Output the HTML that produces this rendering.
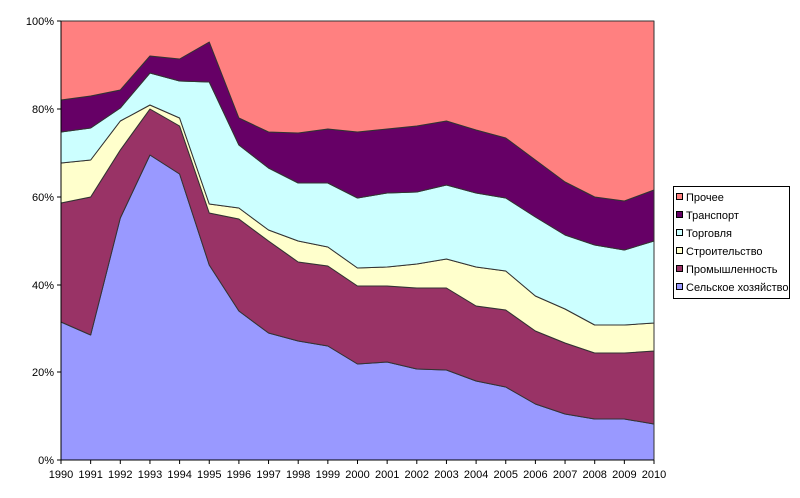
<!DOCTYPE html>
<html><head><meta charset="utf-8"><style>
html,body{margin:0;padding:0;background:#fff;}
svg{display:block;font-family:"Liberation Sans",Arial,sans-serif;}
</style></head><body>
<svg id="s" width="800" height="498" viewBox="0 0 800 498" xmlns="http://www.w3.org/2000/svg">
<g id="areas"></g>
<line x1="61" y1="21" x2="61" y2="460" stroke="#000"/>
<line x1="61" y1="460" x2="654" y2="460" stroke="#000"/>
<g stroke="#000">
<line x1="57" y1="21" x2="61" y2="21"/><line x1="57" y1="109" x2="61" y2="109"/><line x1="57" y1="197" x2="61" y2="197"/><line x1="57" y1="285" x2="61" y2="285"/><line x1="57" y1="372" x2="61" y2="372"/><line x1="57" y1="460" x2="61" y2="460"/>
</g>
<g id="xt" stroke="#000"></g>
<g font-size="11" text-anchor="end" fill="#000">
<text x="54" y="25">100%</text><text x="54" y="113">80%</text><text x="54" y="201">60%</text><text x="54" y="289">40%</text><text x="54" y="376">20%</text><text x="54" y="464">0%</text>
</g>
<g font-size="11" text-anchor="middle" fill="#000">
<text x="61" y="478">1990</text><text x="90.6" y="478">1991</text><text x="120.3" y="478">1992</text><text x="150" y="478">1993</text><text x="179.6" y="478">1994</text><text x="209.3" y="478">1995</text><text x="238.9" y="478">1996</text><text x="268.6" y="478">1997</text><text x="298.2" y="478">1998</text><text x="327.9" y="478">1999</text><text x="357.5" y="478">2000</text><text x="387.2" y="478">2001</text><text x="416.8" y="478">2002</text><text x="446.5" y="478">2003</text><text x="476.1" y="478">2004</text><text x="505.8" y="478">2005</text><text x="535.4" y="478">2006</text><text x="565.1" y="478">2007</text><text x="594.7" y="478">2008</text><text x="624.4" y="478">2009</text><text x="654" y="478">2010</text>
</g>
<rect x="673.5" y="186.5" width="116" height="112" fill="#fff" stroke="#000"/>
<g stroke="#000" stroke-width="1">
<rect x="676.5" y="193.5" width="6" height="6" fill="#FF8080"/>
<rect x="676.5" y="211.5" width="6" height="6" fill="#660066"/>
<rect x="676.5" y="229.5" width="6" height="6" fill="#CCFFFF"/>
<rect x="676.5" y="247.5" width="6" height="6" fill="#FFFFCC"/>
<rect x="676.5" y="265.5" width="6" height="6" fill="#993366"/>
<rect x="676.5" y="283.5" width="6" height="6" fill="#9999FF"/>
</g>
<g font-size="11" fill="#000">
<text x="686" y="201">Прочее</text>
<text x="686" y="219">Транспорт</text>
<text x="686" y="237">Торговля</text>
<text x="686" y="255">Строительство</text>
<text x="686" y="273">Промышленность</text>
<text x="686" y="291">Сельское хозяйство</text>
</g>
</svg>
<script>
var X=[];for(var i=0;i<21;i++)X.push(61+i*29.65);
var B=[
[460,460,460,460,460,460,460,460,460,460,460,460,460,460,460,460,460,460,460,460,460],
[322,335,218,155,174,265,311,333,341,346,364,362,369,370,381,387,404,414,419,419,424],
[203,197,150,109,126,213,219,241,262,266,286,286,288,288,306,310,331,343,353,353,351],
[163,160,121,105,118,204,208,230,241,247,268,267,264,259,267,271,296,309,325,325,323],
[132,128,108,73,81,82,145,168,183,183,198,193,192,185,193,198,217,235,245,250,241],
[100,96,90,56,59,42,118,132,133,129,132,129,126,121,130,138,160,182,197,201,190],
[21,21,21,21,21,21,21,21,21,21,21,21,21,21,21,21,21,21,21,21,21]];
var C=["#9999FF","#993366","#FFFFCC","#CCFFFF","#660066","#FF8080"];
var g=document.getElementById("areas"),h="";
for(var k=0;k<6;k++){var p=[];for(var i=0;i<21;i++)p.push(X[i]+","+B[k+1][i]);for(var i=20;i>=0;i--)p.push(X[i]+","+B[k][i]);
h+='<polygon points="'+p.join(" ")+'" fill="'+C[k]+'" stroke="#333" stroke-width="1" stroke-linejoin="round"/>';}
g.innerHTML=h;
var t="";for(var i=0;i<21;i++)t+='<line x1="'+X[i]+'" y1="460" x2="'+X[i]+'" y2="464"/>';
document.getElementById("xt").innerHTML=t;
</script>
</body></html>
